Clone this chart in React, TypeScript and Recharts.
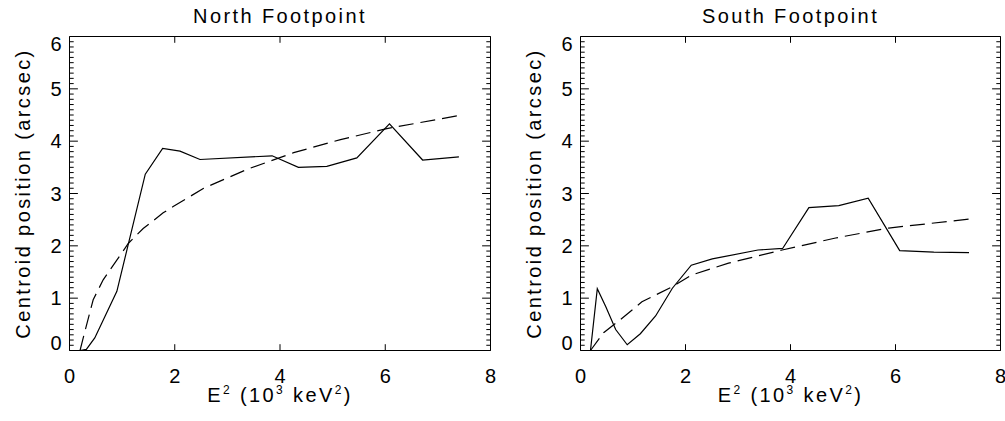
import React from 'react';
import { LineChart, Line, XAxis, YAxis } from 'recharts';

// ---------- data ----------
const northSolidX = [0.20, 0.32, 0.48, 0.90, 1.44, 1.77, 2.10, 2.48, 3.85, 4.35, 4.89, 5.46, 6.08, 6.71, 7.40];
const northSolidY = [0.00, 0.02, 0.24, 1.13, 3.37, 3.86, 3.81, 3.65, 3.72, 3.50, 3.52, 3.68, 4.33, 3.64, 3.70];
const northFitX = [0.20, 0.25, 0.45, 0.64, 1.12, 1.40, 1.78, 1.97, 2.55, 3.37, 4.26, 5.15, 6.03, 7.40];
const northFitY = [0.00, 0.20, 0.97, 1.35, 2.05, 2.33, 2.63, 2.75, 3.10, 3.46, 3.78, 4.03, 4.24, 4.49];

const southSolidX = [0.19, 0.32, 0.48, 0.67, 0.89, 1.14, 1.43, 1.75, 2.11, 2.51, 3.38, 3.85, 4.35, 4.92, 5.48, 6.08, 6.73, 7.40];
const southSolidY = [0.00, 1.18, 0.84, 0.40, 0.11, 0.32, 0.66, 1.19, 1.63, 1.75, 1.92, 1.95, 2.73, 2.77, 2.91, 1.91, 1.88, 1.87];
const southFitX = [0.19, 0.44, 0.76, 1.17, 1.75, 2.11, 2.82, 3.84, 4.86, 5.87, 7.40];
const southFitY = [0.00, 0.34, 0.59, 0.93, 1.22, 1.44, 1.67, 1.92, 2.15, 2.34, 2.51];

const xTicks = [0, 2, 4, 6, 8];
const xTopTicks = [2, 4, 6];
const yMajorTicks = [0, 1, 2, 3, 4, 5, 6];
const yAllTicks: number[] = [];
for (let i = 0; i <= 60; i++) yAllTicks.push(i / 10);

const titles = ['North Footpoint', 'South Footpoint'];
const yLabel = 'Centroid position (arcsec)';

const toPts = (xs: number[], ys: number[]) => xs.map((x, i) => ({ x, y: ys[i] }));

// ---------- style ----------
const FONT = "'Liberation Sans', Arial, sans-serif";
const FS = 20;
const LS = 2.4;
const TICK_Y_MAJOR = 8.4;
const TICK_Y_MINOR = 4.2;
const TICK_X = 6.3;

const isMajor = (v: number) => Math.abs(v - Math.round(v)) < 1e-6;

function LeftYTick(props: any) {
  const { x, y, payload } = props;
  const v = payload.value;
  const major = isMajor(v);
  const len = major ? TICK_Y_MAJOR : TICK_Y_MINOR;
  let baseline = y + 7;
  if (Math.round(v * 10) === 0) baseline = y - 0.5;
  if (Math.round(v * 10) === 60) baseline = y + 14;
  return (
    <g>
      <line x1={x} y1={y} x2={x + len} y2={y} stroke="#000" strokeWidth={1} />
      {major && (
        <text x={x - 8} y={baseline} textAnchor="end" fontFamily={FONT} fontSize={FS} fill="#000">
          {Math.round(v)}
        </text>
      )}
    </g>
  );
}

function RightYTick(props: any) {
  const { x, y, payload } = props;
  const len = isMajor(payload.value) ? TICK_Y_MAJOR : TICK_Y_MINOR;
  return <line x1={x} y1={y} x2={x - len} y2={y} stroke="#000" strokeWidth={1} />;
}

function BottomXTick(props: any) {
  const { x, y, payload } = props;
  return (
    <g>
      <line x1={x} y1={y} x2={x} y2={y - TICK_X} stroke="#000" strokeWidth={1} />
      <text x={x} y={y + 32.6} textAnchor="middle" fontFamily={FONT} fontSize={FS} fill="#000">
        {payload.value}
      </text>
    </g>
  );
}

function TopXTick(props: any) {
  const { x, y } = props;
  return <line x1={x} y1={y} x2={x} y2={y + TICK_X} stroke="#000" strokeWidth={1} />;
}

function Panel({ idx, solid, fit, marginLeft, marginRight }: any) {
  const title = titles[idx];
  return (
    <LineChart
      width={500}
      height={421}
      margin={{ top: 35.5, left: marginLeft, right: marginRight, bottom: 30.5 }}
    >
      <XAxis
        xAxisId="b"
        type="number"
        dataKey="x"
        domain={[0, 8]}
        allowDataOverflow
        ticks={xTicks}
        interval={0}
        orientation="bottom"
        height={40}
        tickSize={0}
        tickMargin={0}
        tick={BottomXTick}
        axisLine={{ stroke: '#000', strokeWidth: 1 }}
        tickLine={false}
        label={(p: any) => {
          const vb = p.viewBox;
          const cx = vb.x + vb.width / 2;
          return (
            <text x={cx} y={vb.y + 51.2} textAnchor="middle" fontFamily={FONT} fontSize={FS} letterSpacing={LS} fill="#000">
              <tspan>E</tspan>
              <tspan fontSize={12} dy={-8}>2</tspan>
              <tspan dy={8}> (10</tspan>
              <tspan fontSize={12} dy={-8}>3</tspan>
              <tspan dy={8}> keV</tspan>
              <tspan fontSize={12} dy={-8}>2</tspan>
              <tspan dy={8}>)</tspan>
            </text>
          );
        }}
      />
      <XAxis
        xAxisId="t"
        type="number"
        dataKey="x"
        domain={[0, 8]}
        allowDataOverflow
        ticks={xTopTicks}
        interval={0}
        orientation="top"
        height={1}
        tickSize={0}
        tickMargin={0}
        tick={TopXTick}
        axisLine={{ stroke: '#000', strokeWidth: 1 }}
        tickLine={false}
        label={(p: any) => {
          const vb = p.viewBox;
          const cx = vb.x + vb.width / 2;
          return (
            <text x={cx} y={22.7} textAnchor="middle" fontFamily={FONT} fontSize={FS} letterSpacing={LS} fill="#000">
              {title}
            </text>
          );
        }}
      />
      <YAxis
        yAxisId="l"
        type="number"
        domain={[0, 6]}
        allowDataOverflow
        ticks={yAllTicks}
        interval={0}
        orientation="left"
        width={60}
        tickSize={0}
        tickMargin={0}
        tick={LeftYTick}
        axisLine={{ stroke: '#000', strokeWidth: 1 }}
        tickLine={false}
        label={(p: any) => {
          const vb = p.viewBox;
          const bx = vb.x + vb.width - 39.5;
          const cy = vb.y + vb.height / 2;
          return (
            <text
              x={bx}
              y={cy}
              transform={`rotate(-90 ${bx} ${cy})`}
              textAnchor="middle"
              fontFamily={FONT}
              fontSize={FS}
              letterSpacing={LS}
              fill="#000"
            >
              {yLabel}
            </text>
          );
        }}
      />
      <YAxis
        yAxisId="r"
        type="number"
        domain={[0, 6]}
        allowDataOverflow
        ticks={yAllTicks}
        interval={0}
        orientation="right"
        width={1}
        tickSize={0}
        tickMargin={0}
        tick={RightYTick}
        axisLine={{ stroke: '#000', strokeWidth: 1 }}
        tickLine={false}
      />
      <Line
        xAxisId="b"
        yAxisId="l"
        data={solid}
        dataKey="y"
        type="linear"
        stroke="#000"
        strokeWidth={1.2}
        dot={false}
        activeDot={false}
        isAnimationActive={false}
      />
      <Line
        xAxisId="b"
        yAxisId="l"
        data={fit}
        dataKey="y"
        type="linear"
        stroke="#000"
        strokeWidth={1.2}
        strokeDasharray="15 7"
        dot={false}
        activeDot={false}
        isAnimationActive={false}
      />
    </LineChart>
  );
}

export default function App() {
  return (
    <div style={{ position: 'absolute', left: 0, top: 0, width: 1005, height: 421, background: '#fff', overflow: 'hidden' }}>
      <div style={{ position: 'absolute', left: 0, top: 0 }}>
        <Panel idx={0} solid={toPts(northSolidX, northSolidY)} fit={toPts(northFitX, northFitY)} marginLeft={9.5} marginRight={8.5} />
      </div>
      <div style={{ position: 'absolute', left: 505, top: 0 }}>
        <Panel idx={1} solid={toPts(southSolidX, southSolidY)} fit={toPts(southFitX, southFitY)} marginLeft={15.5} marginRight={3.5} />
      </div>
    </div>
  );
}
